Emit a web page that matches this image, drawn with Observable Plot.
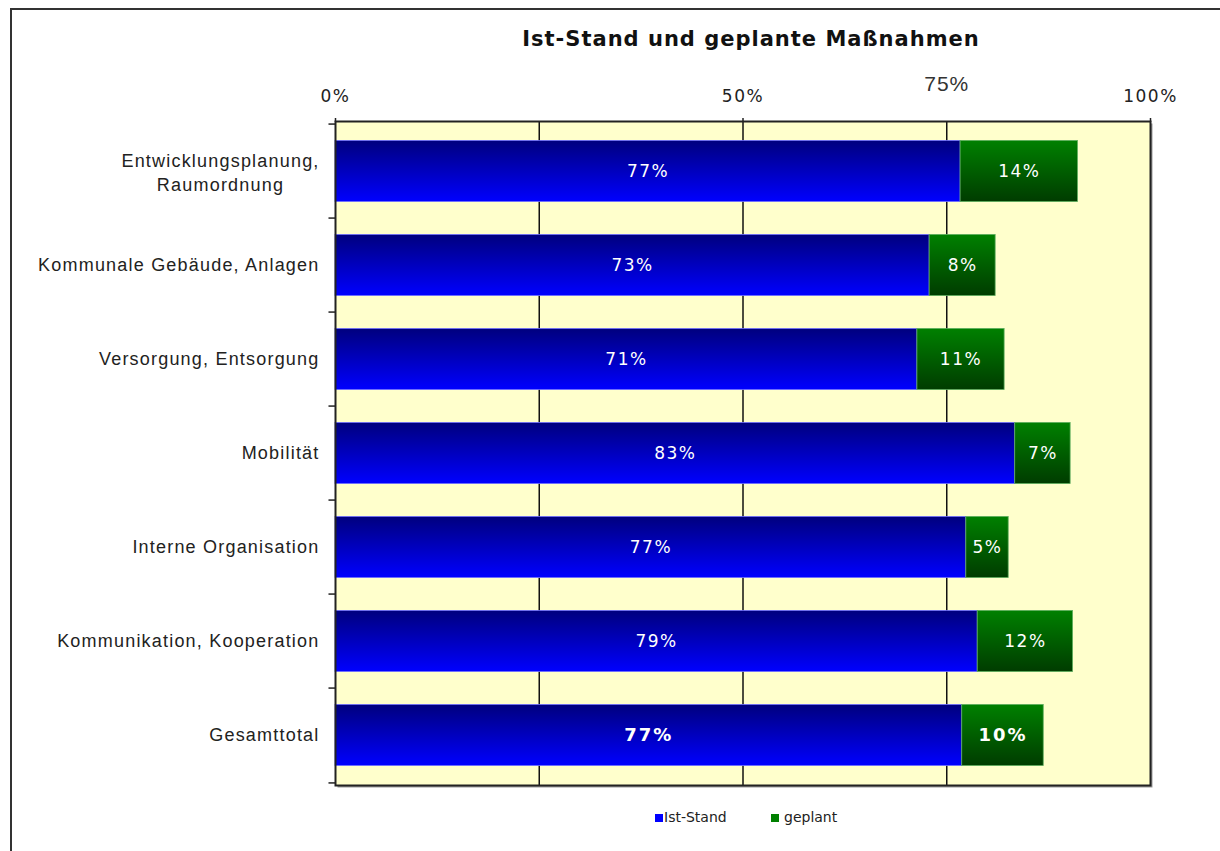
<!DOCTYPE html>
<html><head><meta charset="utf-8">
<script src="https://cdn.jsdelivr.net/npm/d3@7"></script>
<script src="https://cdn.jsdelivr.net/npm/@observablehq/plot@0.6"></script>
<style>
body{margin:0;background:#fff;width:1220px;height:851px;overflow:hidden;position:relative;font-family:"Liberation Sans",Arial,sans-serif}
#frame{position:absolute;left:10px;top:8px;width:1400px;height:1000px;border:2px solid #333;box-sizing:border-box}
#title{position:absolute;left:401px;width:700px;top:27px;text-align:center;font:bold 21px "DejaVu Sans",Verdana,sans-serif;letter-spacing:1px;color:#111}
#chart{position:absolute;left:0;top:60px}
.lg{position:absolute;top:809px;font:14px "DejaVu Sans",Tahoma,sans-serif;color:#222}
.sw{position:absolute;top:814px;width:8px;height:8px}
</style></head>
<body>
<div id="frame"></div>
<div id="title">Ist-Stand und geplante Maßnahmen</div>
<div id="chart"></div>
<div class="sw" style="left:655px;background:#0000ff"></div><div class="lg" style="left:664px">Ist-Stand</div>
<div class="sw" style="left:771px;background:#008000"></div><div class="lg" style="left:784px">geplant</div>
<script>
const categories = ["Entwicklungsplanung,\nRaumordnung", "Kommunale Gebäude, Anlagen", "Versorgung, Entsorgung", "Mobilität", "Interne Organisation", "Kommunikation, Kooperation", "Gesamttotal"];
const istStand = [76.7, 72.9, 71.4, 83.4, 77.4, 78.8, 76.9];
const geplant = [14.4, 8.1, 10.7, 6.8, 5.2, 11.7, 10.0];
const axisTicks = [0, 50, 100];
const gridTicks = [25, 50, 75];
const extraTick = [75];

const rows = categories.map((c, i) => ({cat: c, ist: istStand[i], gep: geplant[i], total: c === "Gesamttotal"}));

const W = 1220, H = 740, mT = 61, mB = 15, mL = 335, mR = 70;
const bw = (H - mT - mB) / categories.length;
const inset = (bw - 62) / 2;
const lastCat = categories[categories.length - 1];

const labelFont = {fontFamily: "DejaVu Sans, Verdana, sans-serif", fontSize: 17, fill: "#fffffe"};
const boldFont = {fontFamily: "DejaVu Sans, Verdana, sans-serif", fontSize: 18, fontWeight: "bold", fill: "#fffffd"};

const svg = Plot.plot({
  width: W, height: H,
  marginTop: mT, marginBottom: mB, marginLeft: mL, marginRight: mR,
  style: {fontFamily: "Liberation Sans, Arial, sans-serif", background: "transparent", overflow: "visible"},
  x: {domain: [0, 100], axis: "top", ticks: axisTicks, tickSize: 4, tickPadding: 16, tickFormat: d => d + "%", label: null},
  y: {type: "band", domain: categories, padding: 0, axis: null},
  marks: [
    Plot.frame({fill: "#9a9a9a", dx: 2, dy: 2}),
    Plot.frame({fill: "#ffffcc"}),
    Plot.ruleX(gridTicks, {stroke: "#111", strokeWidth: 1.5}),
    Plot.barX(rows, {y: "cat", x1: 0, x2: "ist", fill: "#0000c1", stroke: "#7070ff", strokeWidth: 0.8, insetTop: inset, insetBottom: inset}),
    Plot.barX(rows, {y: "cat", x1: "ist", x2: d => d.ist + d.gep, fill: "#006001", stroke: "#5fae5f", strokeWidth: 0.8, insetTop: inset, insetBottom: inset}),
    Plot.text(rows.filter(d => !d.total), {y: "cat", x: d => d.ist / 2, text: d => Math.round(d.ist) + "%", ...labelFont}),
    Plot.text(rows.filter(d => !d.total), {y: "cat", x: d => d.ist + d.gep / 2, text: d => Math.round(d.gep) + "%", ...labelFont}),
    Plot.text(rows.filter(d => d.total), {y: "cat", x: d => d.ist / 2, text: d => Math.round(d.ist) + "%", ...boldFont}),
    Plot.text(rows.filter(d => d.total), {y: "cat", x: d => d.ist + d.gep / 2, text: d => Math.round(d.gep) + "%", ...boldFont}),
    Plot.ruleY(categories, {y: d => d, x1: -0.8, x2: 0, dy: -bw / 2, stroke: "#222", strokeWidth: 1.5}),
    Plot.ruleY([lastCat], {y: d => d, x1: -0.8, x2: 0, dy: bw / 2, stroke: "#222", strokeWidth: 1.5}),
    Plot.text(categories.filter(c => !c.includes("\n")), {y: d => d, text: d => d, frameAnchor: "left", textAnchor: "end", dx: -16, fontSize: 18, fill: "#222221"}),
    Plot.text(categories.filter(c => c.includes("\n")), {y: d => d, text: d => d, frameAnchor: "left", textAnchor: "middle", dx: -115, fontSize: 18, lineHeight: 1.3, fill: "#222221"}),
    Plot.text(extraTick, {x: d => d, text: d => d + "%", frameAnchor: "top", dy: -45, fontSize: 21, fill: "#333332", fontFamily: "Liberation Sans, Arial, sans-serif"}),
    Plot.frame({stroke: "#222", strokeWidth: 2})
  ]
});

const s = d3.select(svg);
// gradients
const defs = s.insert("defs", ":first-child");
const gb = defs.append("linearGradient").attr("id", "gBlue").attr("x1", 0).attr("y1", 0).attr("x2", 0).attr("y2", 1);
gb.append("stop").attr("offset", "0%").attr("stop-color", "#00007e");
gb.append("stop").attr("offset", "100%").attr("stop-color", "#0000ff");
const gg = defs.append("linearGradient").attr("id", "gGreen").attr("x1", 0).attr("y1", 0).attr("x2", 0).attr("y2", 1);
gg.append("stop").attr("offset", "0%").attr("stop-color", "#008000");
gg.append("stop").attr("offset", "100%").attr("stop-color", "#003c00");
s.selectAll('[fill="#0000c1"]').attr("fill", "url(#gBlue)");
s.selectAll('[fill="#006001"]').attr("fill", "url(#gGreen)");

// text spacing tweaks
s.selectAll('[fill="#fffffe"]').style("letter-spacing", "1.5px");
s.selectAll('[fill="#fffffd"]').style("letter-spacing", "2px");
s.selectAll('[fill="#222221"]').style("letter-spacing", "1.2px");
s.selectAll('[fill="#333332"]').style("letter-spacing", "1px");

// axis label styling
s.selectAll('g[aria-label="x-axis tick label"]').attr("font-size", 17).attr("fill", "#222").style("font-family", "DejaVu Sans, Tahoma, sans-serif").style("letter-spacing", "1.5px");
s.selectAll('g[aria-label="x-axis tick"]').attr("stroke", "#222").attr("stroke-width", 1.5);

document.getElementById("chart").appendChild(svg);
</script>
</body></html>
